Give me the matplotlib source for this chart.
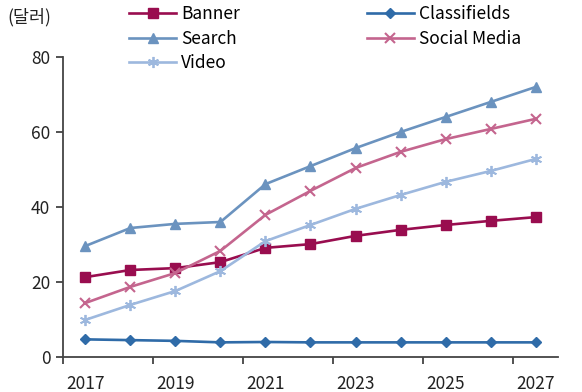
import matplotlib
matplotlib.use("Agg")
import matplotlib.pyplot as plt
import numpy as np

plt.rcParams['font.family'] = ['Noto Sans CJK KR', 'DejaVu Sans']

years = [str(y) for y in range(2017, 2028)]
banner = [21.3, 23.2, 23.7, 25.3, 29.1, 30.1, 32.3, 33.9, 35.2, 36.3, 37.3]
search = [29.6, 34.4, 35.5, 36.0, 46.1, 50.9, 55.7, 60.0, 64.0, 68.0, 72.0]
social = [14.4, 18.7, 22.4, 28.3, 37.9, 44.3, 50.4, 54.7, 58.1, 60.8, 63.5]
video = [9.9, 13.9, 17.6, 22.9, 30.9, 35.2, 39.5, 43.2, 46.7, 49.6, 52.8]
classifieds = [4.7, 4.5, 4.3, 3.9, 4.0, 3.9, 3.9, 3.9, 3.9, 3.9, 3.9]
y_ticks = [0, 20, 40, 60, 80]

fig = plt.figure(figsize=(5.82, 3.92), dpi=100)
ax = fig.add_axes([0.108, 0.0893, 0.851, 0.7653])

x = np.arange(len(years))
lw = 1.9
h_banner, = ax.plot(x, banner, color='#990D4F', lw=lw, marker='s', ms=7.5, label='Banner')
h_search, = ax.plot(x, search, color='#6B93BF', lw=lw, marker='^', ms=7.5, label='Search')
h_video, = ax.plot(x, video, color='#9DB8DE', lw=lw, marker=(6, 2, 0), ms=8, mew=1.3, label='Video')
h_class, = ax.plot(x, classifieds, color='#2F6BA8', lw=lw, marker='D', ms=5.5, label='Classifields')
h_social, = ax.plot(x, social, color='#C4658E', lw=lw, marker='x', ms=7, mew=1.5, label='Social Media')
# keep classifieds drawn above others
h_class.set_zorder(3)

ax.set_xlim(-0.5, len(years) - 0.5)
ax.set_ylim(0, 80)
ax.set_yticks(y_ticks)
ax.set_xticks(x[::2])
ax.set_xticklabels(years[::2])
ax.set_xticks(np.arange(-0.5, len(years) - 1, 2), minor=True)
ax.tick_params(axis='x', which='major', length=0, pad=13, labelsize=12.5, colors='#222222')
ax.tick_params(axis='x', which='minor', length=5, width=1.2, color='#333333', direction='out')
ax.tick_params(axis='y', length=5, width=1.2, color='#333333', direction='out', labelsize=12.5, pad=4, labelcolor='#222222')

for s in ['top', 'right']:
    ax.spines[s].set_visible(False)
for s in ['left', 'bottom']:
    ax.spines[s].set_color('#444444')
    ax.spines[s].set_linewidth(1.3)

fig.text(0.012, 0.955, '(달러)', fontsize=12.5, color='#222222', va='center', ha='left')

fig.legend(handles=[h_banner, h_search, h_video, h_class, h_social],
           ncol=2, loc='upper left', bbox_to_anchor=(0.21, 1.005), frameon=False,
           fontsize=12.5, handlelength=2.7, handletextpad=0.3, columnspacing=7.3,
           labelspacing=0.38, borderaxespad=0)

fig.savefig('out.png', dpi=100)
